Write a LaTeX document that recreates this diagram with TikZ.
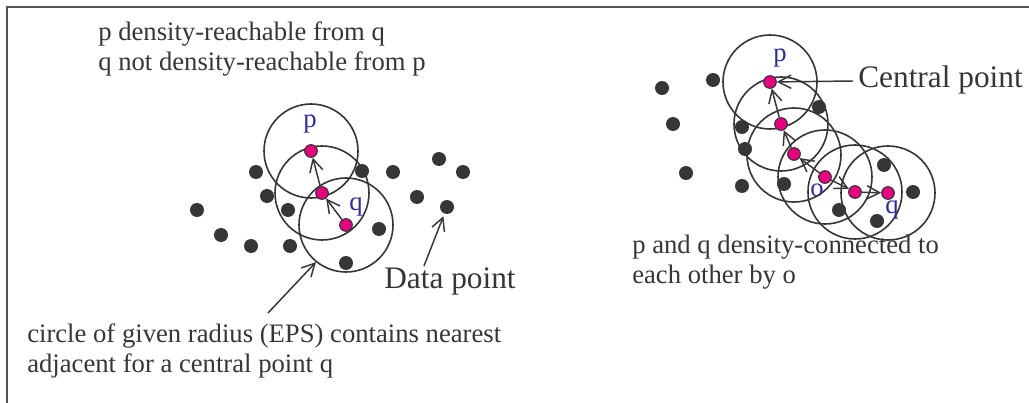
\documentclass[tikz,border=0pt]{standalone}
\usepackage{fontspec}
\setmainfont{Liberation Serif}
\usetikzlibrary{arrows.meta}
\definecolor{ink}{HTML}{363636}
\definecolor{pinkdot}{HTML}{E6007E}
\definecolor{lblue}{HTML}{2E2E96}
\begin{document}
\begin{tikzpicture}[x=0.75pt,y=-0.75pt,
 dot/.style={circle,fill=ink,inner sep=0,minimum size=10.5pt},
 core/.style={circle,fill=pinkdot,draw=ink,line width=0.8pt,inner sep=0,minimum size=9.5pt},
 ring/.style={circle,draw=ink,line width=1.2pt,inner sep=0,minimum size=70.5pt},
 arr/.style={draw=ink,line width=1.1pt,-{Straight Barb[length=9.5pt,width=10pt]}},
 txt/.style={text=ink,font=\fontsize{20}{24}\selectfont,anchor=base west,inner sep=0},
 big/.style={text=ink,font=\fontsize{23.5}{28}\selectfont,anchor=base west,inner sep=0},
 lab/.style={text=lblue,font=\fontsize{20}{24}\selectfont,inner sep=0}]
\useasboundingbox (0,0) rectangle (1029,403);
\fill[white] (0,0) rectangle (1029,403);
% frame
\draw[ink!85,line width=1.5pt] (1029,7) -- (7,7) -- (7,403);

% ---------- left cluster ----------
\node[ring] (Lc1) at (311,151) {};
\node[ring] (Lc2) at (322,193) {};
\node[ring] (Lc3) at (346,225) {};

\foreach \n/\x/\y in {a/256/172,b/267/196,c/288/210,d/197/210,e/221/235,f/251/246,g/290/246,
  h/362/171,i/393/172,j/439/159,k/463/172,l/417/197,m/447/207,n/379/229,o/346/263}
  \node[dot] (L\n) at (\x,\y) {};

\node[core] (LCp) at (311,151) {};
\node[core] (LCm) at (322,193) {};
\node[core] (LCq) at (346,225) {};
\node[lab] (Lplab) at (310,124) {p};
\node[lab] (Lqlab) at (356,207) {q};

\draw[arr] (LCq) -- (LCm);
\draw[arr] (LCm) -- (LCp);

\coordinate (dpa) at (424,266);
\draw[arr,shorten >=2pt] (dpa) -- (Lm);
\coordinate (cra) at (268,313);
\draw[arr] (cra) -- (Lc3.231);

\node[txt] (t1) at (98,41) {p density-reachable from q};
\node[txt] (t2) at (98,71) {q not density-reachable from p};
\node[big] (dp) at (384,288) {Data point};
\node[txt] (t3) at (27,342) {circle of given radius (EPS) contains nearest};
\node[txt] (t4) at (27,372) {adjacent for a central point q};

% ---------- right cluster ----------
\node[ring] (Rc1) at (770,82) {};
\node[ring] (Rc2) at (781,124) {};
\node[ring] (Rc3) at (794,155) {};
\node[ring] (Rc4) at (825,177) {};
\node[ring] (Rc5) at (855,192) {};
\node[ring] (Rc6) at (888,193) {};

\foreach \n/\x/\y in {a/662/88,b/713/80,c/673/124,d/686/173,e/819/107,f/742/127,g/745/149,
  h/742/186,i/784/184,j/884/165,k/913/192,l/839/210,m/877/221}
  \node[dot] (R\n) at (\x,\y) {};

\node[core] (RCp) at (770,82) {};
\node[core] (RC2) at (781,124) {};
\node[core] (RC3) at (794,154) {};
\node[core] (RCo) at (825,177) {};
\node[core] (RC5) at (855,192) {};
\node[core] (RCq) at (888,193) {};
\node[lab] (Rplab) at (780,58) {p};
\node[lab] (Rolab) at (817,190) {o};
\node[lab] (Rqlab) at (892,210) {q};

\draw[arr] (RC2) -- (RCp);
\draw[arr] (RC3) -- (RC2);
\draw[arr] (RCo) -- (RC3);
\draw[arr] (RCo) -- (RC5);
\draw[arr] (RC5) -- (RCq);

\coordinate (cpa) at (853,81);
\draw[arr] (cpa) -- (RCp);
\node[big] (cp) at (858,88) {Central point};
\node[txt] (t5) at (632,253) {p and q density-connected to};
\node[txt] (t6) at (632,283) {each other by o};
\end{tikzpicture}
\end{document}
